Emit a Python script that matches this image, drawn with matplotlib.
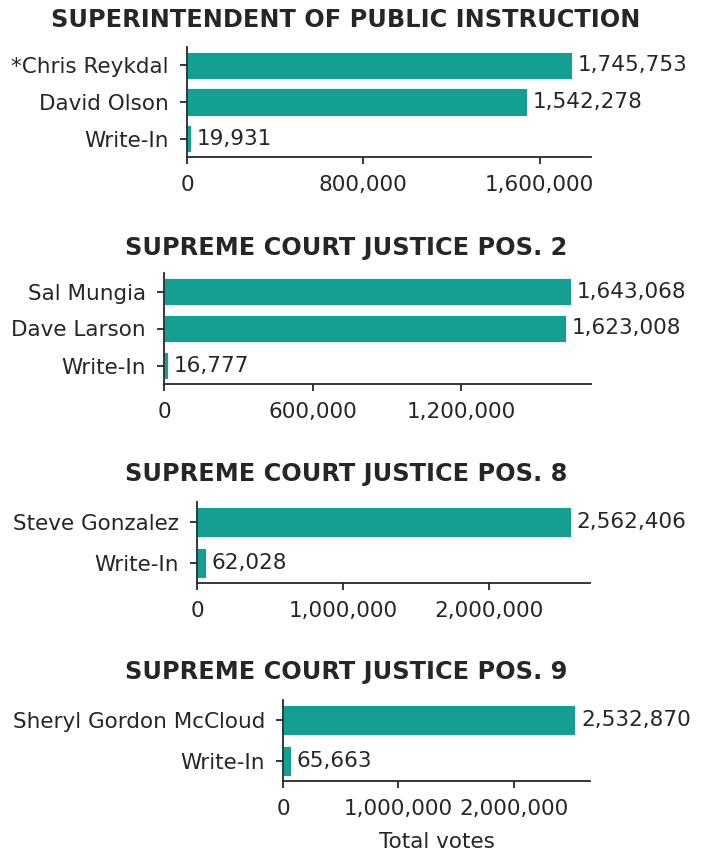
import matplotlib
matplotlib.use("Agg")
import matplotlib.pyplot as plt

titles = [
    "SUPERINTENDENT OF PUBLIC INSTRUCTION",
    "SUPREME COURT JUSTICE POS. 2",
    "SUPREME COURT JUSTICE POS. 8",
    "SUPREME COURT JUSTICE POS. 9",
]
cands_1 = ["*Chris Reykdal", "David Olson", "Write-In"]
votes_1 = [1745753, 1542278, 19931]
cands_2 = ["Sal Mungia", "Dave Larson", "Write-In"]
votes_2 = [1643068, 1623008, 16777]
cands_3 = ["Steve Gonzalez", "Write-In"]
votes_3 = [2562406, 62028]
cands_4 = ["Sheryl Gordon McCloud", "Write-In"]
votes_4 = [2532870, 65663]
ticks_1 = [0, 800000, 1600000]
ticks_2 = [0, 600000, 1200000]
ticks_3 = [0, 1000000, 2000000]
ticks_4 = [0, 1000000, 2000000]
xlabel = "Total votes"

W, H = 704, 850
TEXT = "#262626"
BAR = "#13A093"
FS = 15.5

plt.rcParams["font.family"] = ["DejaVu Sans"]
plt.rcParams["text.color"] = TEXT
plt.rcParams["axes.labelcolor"] = TEXT
plt.rcParams["xtick.color"] = TEXT
plt.rcParams["ytick.color"] = TEXT

fig = plt.figure(figsize=(W / 100, H / 100), dpi=100)

# pixel boxes: left, right, top, bottom ; title center y
boxes = [
    (187, 591, 47, 157, 20),
    (164, 591, 273, 384, 248),
    (197, 590, 502, 583, 474),
    (283, 590, 700, 781, 672),
]
data = [
    (cands_1, votes_1, ticks_1),
    (cands_2, votes_2, ticks_2),
    (cands_3, votes_3, ticks_3),
    (cands_4, votes_4, ticks_4),
]

for i, ((l, r, t, b, ty), (cands, votes, ticks)) in enumerate(zip(boxes, data)):
    ax = fig.add_axes([l / W, 1 - b / H, (r - l) / W, (b - t) / H])
    y = list(range(len(cands)))
    bars = ax.barh(y, votes, height=0.75, color=BAR, edgecolor="white", linewidth=0.6)
    ax.set_ylim(len(cands) - 0.5, -0.5)
    ax.set_xlim(0, max(votes) * 1.05)
    ax.set_yticks(y)
    ax.set_yticklabels(cands, fontsize=FS)
    ax.set_xticks(ticks)
    ax.set_xticklabels([f"{v:,}" for v in ticks], fontsize=FS)
    ax.bar_label(bars, labels=[f"{v:,}" for v in votes], padding=4, fontsize=FS, color=TEXT)
    for s in ["top", "right"]:
        ax.spines[s].set_visible(False)
    for s in ["left", "bottom"]:
        ax.spines[s].set_color(TEXT)
        ax.spines[s].set_linewidth(1.3)
    ax.tick_params(axis="both", length=5, width=1.3, pad=8)
    fig.text(346 / W, 1 - ty / H, titles[i], ha="center", va="center",
             fontsize=17.3, fontweight="bold", color=TEXT)
    if i == 3:
        ax.set_xlabel(xlabel, fontsize=FS, labelpad=9)

fig.savefig("out.png", dpi=100)
